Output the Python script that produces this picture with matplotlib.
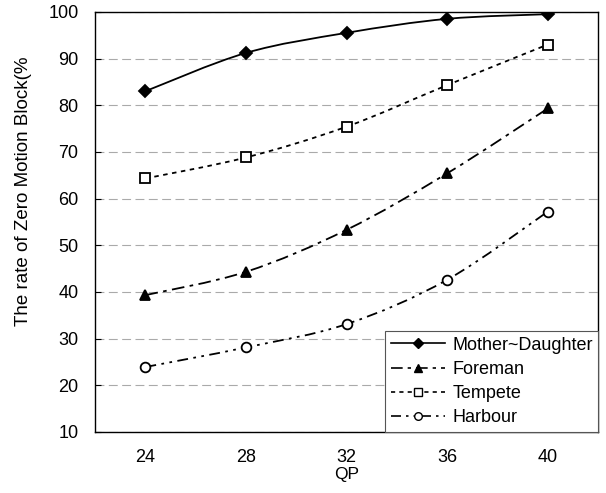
import numpy as np
import matplotlib
matplotlib.use("Agg")
import matplotlib.pyplot as plt
from matplotlib.path import Path
from matplotlib.patches import PathPatch

plt.rcParams['font.family'] = ['Liberation Sans', 'DejaVu Sans']

qp = [24, 28, 32, 36, 40]
mother_daughter = [83, 91.2, 95.5, 98.5, 99.5]
foreman = [39.3, 44.3, 53.3, 65.4, 79.3]
tempete = [64.3, 68.8, 75.4, 84.3, 93]
harbour = [23.9, 28.1, 33.1, 42.6, 57.2]
yticks = [10, 20, 30, 40, 50, 60, 70, 80, 90, 100]


def smooth_path(x, y):
    # Excel-style smoothed line: cubic Bezier through every point
    p = np.column_stack([x, y]).astype(float)
    ext = np.vstack([p[0], p, p[-1]])
    verts = [tuple(p[0])]
    codes = [Path.MOVETO]
    for i in range(len(p) - 1):
        p0, p1, p2, p3 = ext[i], ext[i + 1], ext[i + 2], ext[i + 3]
        c1 = p1 + (p2 - p0) / 6
        c2 = p2 - (p3 - p1) / 6
        verts += [tuple(c1), tuple(c2), tuple(p2)]
        codes += [Path.CURVE4] * 3
    return Path(verts, codes)


series = [
    ("Mother~Daughter", mother_daughter, "-", "D", "k", 6.5),
    ("Foreman", foreman, (0, (7, 3, 2, 3)), "^", "k", 7.5),
    ("Tempete", tempete, (0, (2.5, 2.5)), "s", "white", 7),
    ("Harbour", harbour, (0, (6, 3, 1.5, 3, 1.5, 3)), "o", "white", 7),
]

fig = plt.figure(figsize=(6.06, 4.93), dpi=100)
ax = fig.add_axes([0.157, 0.124, 0.83, 0.852])

for lab, vals, ls, mk, fc, ms in series:
    patch = PathPatch(smooth_path(qp, vals), facecolor="none", edgecolor="k",
                      lw=1.3, linestyle=ls)
    ax.add_patch(patch)
    ax.plot(qp, vals, linestyle="none", marker=mk, markersize=ms,
            markerfacecolor=fc, markeredgecolor="k", markeredgewidth=1.3,
            zorder=3)
    # legend proxy
    ax.plot([], [], color="k", lw=1.2, linestyle=ls, marker=mk, markersize=ms - 1.5,
            markerfacecolor=fc, markeredgecolor="k", label=lab)

ax.set_xlim(22, 42)
ax.set_ylim(10, 100)
ax.set_xticks(qp)
ax.set_yticks(yticks)
ax.tick_params(axis="x", length=0, labelsize=13, pad=12)
ax.tick_params(axis="y", direction="in", length=4, labelsize=13, pad=12)
ax.grid(True, axis="y", color="#aaaaaa", linestyle=(0, (8, 4)), lw=0.8)
ax.set_axisbelow(True)
for s in ax.spines.values():
    s.set_linewidth(1.0)

ax.set_xlabel("QP", fontsize=12.5, labelpad=1)
ax.set_ylabel("The rate of Zero Motion Block(%", fontsize=13.5)
ax.yaxis.set_label_coords(-0.125, 0.574)

leg = ax.legend(loc="lower right", borderaxespad=0, fontsize=13, fancybox=False,
                edgecolor="#555555", framealpha=1, handlelength=3.0,
                labelspacing=0.4, borderpad=0.3, handletextpad=0.4)
leg.get_frame().set_linewidth(0.8)

fig.savefig("out.png", dpi=100)
